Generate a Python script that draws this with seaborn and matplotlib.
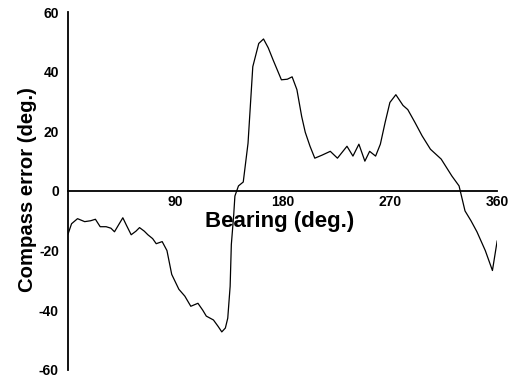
import matplotlib
matplotlib.use("Agg")
import matplotlib.pyplot as plt
import seaborn as sns
import pandas as pd

bearing = [0, 3, 8, 14, 19, 23, 27, 32, 36, 39, 43, 46, 49, 53, 57, 60, 64, 67, 71, 74,
           79, 83, 87, 93, 98, 103, 109, 113, 116, 122, 126, 129, 132, 134, 136, 137, 139,
           140, 143, 147, 151, 155, 160, 164, 168, 172, 179, 184, 188, 192, 196, 199, 203,
           207, 213, 220, 226, 230, 234, 239, 244, 249, 253, 258, 262, 266, 270, 275, 281,
           285, 291, 297, 304, 313, 322, 328, 333, 338, 343, 350, 356, 360]
error = [-14.5, -11, -9.3, -10.3, -10, -9.5, -12, -12, -12.5, -13.7, -11, -9, -11.5, -14.7,
         -13.5, -12.3, -13.5, -14.7, -16, -17.7, -17, -20, -28, -33, -35.3, -38.7, -37.7,
         -40, -42, -43.3, -45.5, -47.3, -46, -42.7, -32, -18, -8, -1.7, 1.7, 3, 16, 41.7,
         49.5, 51, 48, 44, 37.3, 37.5, 38.3, 34, 25, 19.7, 15, 11, 12, 13.3, 11, 13, 15,
         11.7, 15.7, 10, 13.3, 11.7, 15.7, 23, 29.7, 32.3, 28.7, 27.3, 23, 18.5, 14, 10.7,
         5, 1.7, -6.7, -10, -13.7, -20, -26.7, -16.7]
x_ticks = [90, 180, 270, 360]
y_ticks = [-60, -40, -20, 0, 20, 40, 60]

sns.set_style("white")
plt.rcParams['font.family'] = ['Liberation Sans', 'DejaVu Sans']
plt.rcParams['text.color'] = 'black'
plt.rcParams['axes.labelcolor'] = 'black'

df = pd.DataFrame({"Bearing": bearing, "Error": error})

fig = plt.figure(figsize=(5.19, 3.80), dpi=100)
ax = fig.add_axes([0.131, 0.027, 0.827, 0.941])
sns.lineplot(data=df, x="Bearing", y="Error", ax=ax, color="black", linewidth=0.9)

ax.set_xlim(0, 360)
ax.set_ylim(-60, 60)
ax.spines['right'].set_visible(False)
ax.spines['top'].set_visible(False)
ax.spines['bottom'].set_position(('data', 0))
for s in ['left', 'bottom']:
    ax.spines[s].set_color('black')
    ax.spines[s].set_linewidth(1.3)

ax.set_xticks(x_ticks)
ax.set_yticks(y_ticks)
ax.set_xticklabels([str(v) for v in x_ticks], fontweight='bold', fontsize=10)
ax.set_yticklabels([str(v) for v in y_ticks], fontweight='bold', fontsize=10)
ax.tick_params(axis='both', direction='out', length=2, width=1, colors='black', pad=4.5)
ax.tick_params(axis='x', length=0, pad=3)

ax.set_xlabel("Bearing (deg.)", fontsize=16, fontweight='bold', color='black')
ax.xaxis.set_label_coords(0.494, 0.445)
ax.set_ylabel("Compass error (deg.)", fontsize=14.6, fontweight='bold', color='black')
ax.yaxis.set_label_coords(-0.072, 0.505)

fig.savefig("out.png", dpi=100)
